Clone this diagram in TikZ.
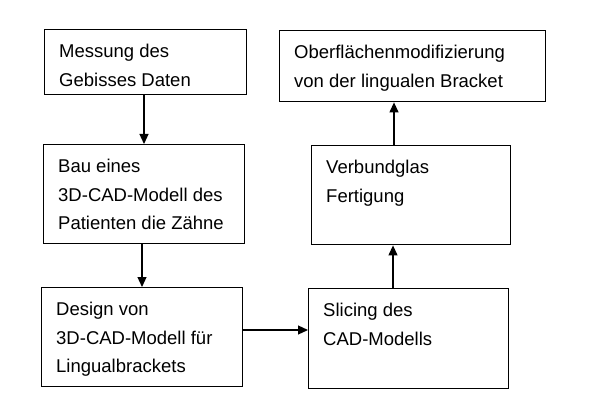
\documentclass[tikz,border=0pt]{standalone}
\usepackage{fontspec}
\setmainfont{Liberation Sans}
\usetikzlibrary{arrows.meta,positioning}

\begin{document}
\begin{tikzpicture}[x=1pt,y=-1pt,
  stepbox/.style={rectangle,draw,line width=1.4pt,anchor=north west,inner sep=0pt},
  steptext/.style={anchor=north west,align=left,inner xsep=15pt,inner ysep=15pt,
    font=\fontsize{18.5}{28.5}\selectfont},
  flow/.style={-{Triangle[width=9pt,length=10pt]},line width=1.2pt}]
\useasboundingbox (0,0) rectangle (593,398);

% Left column: measurement to design
\node[stepbox,minimum width=202pt,minimum height=65pt] (mess) at (44,29) {};
\node[steptext] (mess-t) at (mess.north west) {Messung des\\Gebisses Daten};
\node[stepbox,minimum width=201pt,minimum height=99pt] (bau) at (43,144) {};
\node[steptext] (bau-t) at (bau.north west) {Bau eines\\3D-CAD-Modell des\\Patienten die Z\"ahne};
\node[stepbox,minimum width=201pt,minimum height=99pt] (design) at (41,287) {};
\node[steptext] (design-t) at (design.north west) {Design von\\3D-CAD-Modell f\"ur\\Lingualbrackets};

% Right column: slicing to finishing
\node[stepbox,minimum width=200pt,minimum height=100pt] (slic) at (308,288) {};
\node[steptext] (slic-t) at (slic.north west) {Slicing des\\CAD-Modells};
\node[stepbox,minimum width=199pt,minimum height=99pt] (verb) at (311,145) {};
\node[steptext] (verb-t) at (verb.north west) {Verbundglas\\Fertigung};
\node[stepbox,minimum width=266pt,minimum height=71pt] (ober) at (279,30) {};
\node[steptext] (ober-t) at (ober.north west) {Oberfl\"achenmodifizierung\\von der lingualen Bracket};

% Arrows
\draw[flow] (mess.south -| 144,0) -- (bau.north -| 144,0);
\draw[flow] (bau.south -| 142,0) -- (design.north -| 142,0);
\draw[flow] (design.east |- 0,330) -- (slic.west |- 0,330);
\draw[flow] (slic.north -| 393,0) -- (verb.south -| 393,0);
\draw[flow] (verb.north -| 394,0) -- (ober.south -| 394,0);
\end{tikzpicture}
\end{document}
